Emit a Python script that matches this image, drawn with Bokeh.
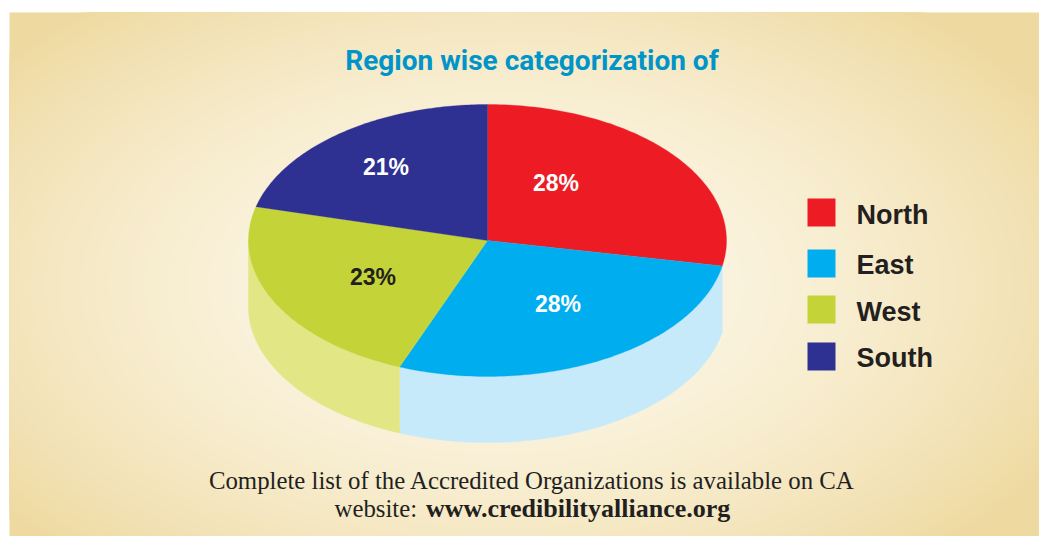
import numpy as np
from bokeh.plotting import figure
from bokeh.models import Range1d
from bokeh.core.properties import value
from bokeh.embed import file_html
from bokeh.resources import INLINE

# data
regions = ["North", "East", "West", "South"]
shares = [28, 28, 23, 21]
labels = ["28%", "28%", "23%", "21%"]
colors = ["#ED1C24", "#00AEEF", "#C4D337", "#2E3192"]
wall_colors = ["#C7EAFB", "#E2E685"]
label_colors = ["#FFFFFF", "#FFFFFF", "#231F20", "#FFFFFF"]
title = "Region wise categorization of"
footer1 = "Complete list of the Accredited Organizations is available on CA"
footer2a = "website: "
footer2b = "www.credibilityalliance.org"

# layout, in page pixels
W, H = 1039, 536
CX, CY, RX, RY, DEPTH = 487.0, 240.0, 239.0, 136.0, 66.0

p = figure(width=W, height=H, output_backend="svg", toolbar_location=None,
           x_range=Range1d(0, W), y_range=Range1d(H, 0),
           min_border=0, outline_line_color=None, background_fill_color="white",
           border_fill_color="white")
p.xaxis.visible = False
p.yaxis.visible = False
p.grid.visible = False

# background radial gradient, as stacked ellipses clipped to the panel
bx0, by0, bx1, by1 = 9, 12, W, H
c0 = np.array([252, 247, 232.0])
c1 = np.array([238, 217, 160.0])
th = np.linspace(0, 2 * np.pi, 180)
bg_x, bg_y, bg_c = [], [], []
steps = 90
for k in range(steps, 0, -1):
    f = k / steps
    ex = 500 + 640 * 1.0 * f * np.cos(th)
    ey = 285 + 370 * 1.0 * f * np.sin(th)
    bg_x.append(np.clip(ex, bx0, bx1))
    bg_y.append(np.clip(ey, by0, by1))
    c = c0 + (c1 - c0) * f ** 1.8
    bg_c.append("#%02x%02x%02x" % tuple(int(round(q)) for q in c))
p.quad(left=bx0, right=bx1, top=by0, bottom=by1, fill_color=bg_c[0], line_color=None)
p.patches(bg_x, bg_y, fill_color=bg_c, line_color=None)


def ell(a):
    r = np.radians(a)
    return CX + RX * np.sin(r), CY - RY * np.cos(r)


edges = np.cumsum([0] + shares) * 3.6

# side walls: east slice to the bottom, west slice up to the leftmost point
w_ranges = [(edges[1], edges[2]), (edges[2], 270.0)]
for (a0, a1), col in zip(w_ranges, wall_colors):
    a = np.linspace(a0, a1, 80)
    x, y = ell(a)
    p.patch(np.r_[x, x[::-1]], np.r_[y, y[::-1] + DEPTH], fill_color=col, line_color=col, line_width=0.5)

# top slices
for i, col in enumerate(colors):
    a = np.linspace(edges[i], edges[i + 1], 100)
    x, y = ell(a)
    p.patch(np.r_[CX, x], np.r_[CY, y], fill_color=col, line_color=col, line_width=0.3)

SANS = value("Liberation Sans")
lx = [555.5, 557.5, 372.5, 385.5]
ly = [182, 303, 276, 166]
p.text(lx, ly, text=labels, text_color=label_colors, text_font=SANS, text_font_style="bold",
       text_font_size="23px", text_align="center", text_baseline="alphabetic")

# legend
sw_y = [198, 249, 295, 342]
p.quad(left=807, right=835, top=sw_y, bottom=[s + 28 for s in sw_y], fill_color=colors, line_color=None)
p.text([856] * 4, [214, 264, 311, 357], text=regions, text_color="#231F20", text_font=SANS,
       text_font_style="bold", text_font_size="27px", text_baseline="alphabetic")

# title
p.text([531.5], [60], text=[title], text_color="#0094C8", text_font=value("Roboto"),
       text_font_style="bold", text_font_size="28px", text_align="center", text_baseline="alphabetic")

# footer
SERIF = value("Liberation Serif")
p.text([531.5], [480], text=[footer1], text_color="#231F20", text_font=SERIF, text_font_size="24.8px",
       text_align="center", text_baseline="alphabetic")
p.text([334], [508], text=[footer2a], text_color="#231F20", text_font=SERIF, text_font_size="24.8px",
       text_baseline="alphabetic")
p.text([425.5], [508], text=[footer2b], text_color="#231F20", text_font=SERIF, text_font_style="bold",
       text_font_size="26px", text_baseline="alphabetic")

open("out.html", "w").write(file_html(p, INLINE))
